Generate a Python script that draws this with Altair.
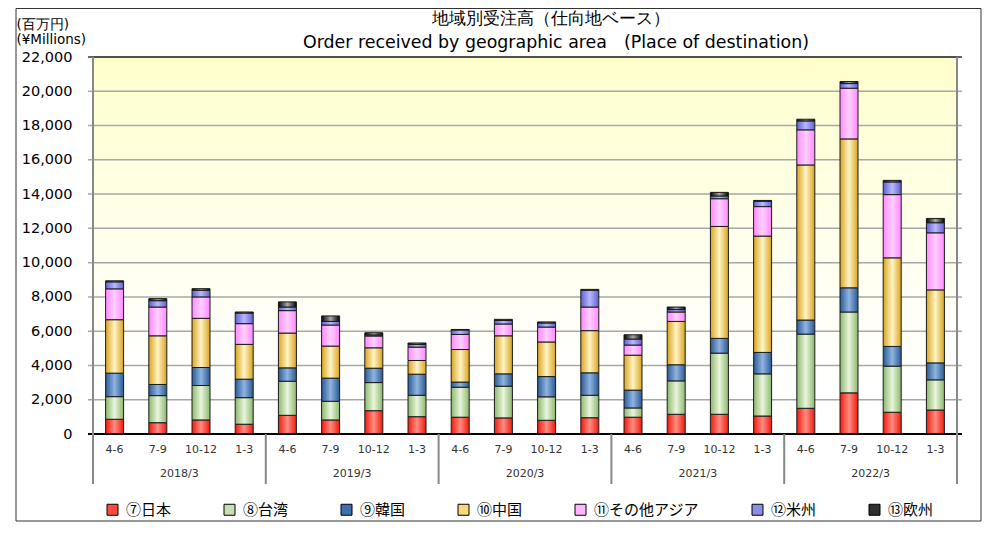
import altair as alt
import pandas as pd

quarters = ["4-6", "7-9", "10-12", "1-3"] * 5
years = ["2018/3", "2019/3", "2020/3", "2021/3", "2022/3"]
series_names = ["⑦日本", "⑧台湾", "⑨韓国", "⑩中国", "⑪その他アジア", "⑫米州", "⑬欧州"]
title_lines = ["地域別受注高（仕向地ベース）", "Order received by geographic area\u3000(Place of destination)"]

japan = [860, 660, 820, 570, 1090, 820, 1360, 1010, 980, 940, 800, 950, 980, 1150, 1150, 1050, 1500, 2400, 1270, 1400]
taiwan = [1320, 1580, 2010, 1550, 1990, 1090, 1640, 1250, 1750, 1850, 1370, 1310, 540, 1950, 3570, 2460, 4330, 4720, 2690, 1760]
korea = [1370, 650, 1050, 1080, 780, 1350, 840, 1230, 300, 720, 1180, 1310, 1040, 940, 860, 1250, 820, 1410, 1150, 990]
china = [3120, 2840, 2870, 2030, 2030, 1870, 1190, 800, 1900, 2220, 2020, 2460, 2040, 2530, 6530, 6790, 9050, 8690, 5170, 4260]
other_asia = [1800, 1680, 1250, 1210, 1310, 1230, 690, 780, 880, 690, 870, 1380, 590, 550, 1620, 1720, 2050, 2960, 3690, 3330]
americas = [410, 370, 390, 620, 210, 210, 60, 160, 260, 210, 240, 980, 350, 140, 160, 310, 520, 270, 740, 590]
europe = [60, 120, 90, 60, 300, 320, 130, 80, 30, 60, 60, 50, 250, 150, 210, 50, 100, 120, 90, 250]

all_series = [japan, taiwan, korea, china, other_asia, americas, europe]
edge_colors = ["#F01A0C", "#8DB86C", "#2A5A95", "#D9A420", "#FF88FF", "#6060D0", "#000000"]
light_colors = ["#FF8C82", "#EAF5DE", "#90B4E0", "#FFF4C4", "#FFD0FF", "#B8B8FF", "#A8A8A8"]
legend_colors = ["#FF4A3D", "#C8E0B2", "#3F6FAE", "#F6D77C", "#FFB6FF", "#8C8CEA", "#303030"]
ytick_values = list(range(0, 22001, 2000))

W, H = 874, 377

rows = []
for k, (name, vals) in enumerate(zip(series_names, all_series)):
    for i, v in enumerate(vals):
        rows.append({"pos": i + 0.5, "series": name, "order": k, "value": v})
df = pd.DataFrame(rows)

xs = alt.Scale(domain=[0, 20], nice=False, zero=False)
ys = alt.Scale(domain=[0, 22000], nice=False)

y_axis = alt.Axis(
    values=ytick_values, format=",d", labelFontSize=14.5, labelColor="#000000",
    ticks=False, domain=False, grid=False, labelPadding=16,
    labelOverlap=False, labelFlush=False, labelBound=False,
    title=["(百万円)", "(¥Millions)"], titleAngle=0, titleAlign="left",
    titleBaseline="top", titleX=-72, titleY=-40, titleFontSize=13.5,
    titleFontWeight="normal", titleLineHeight=15, titleColor="#000000")


def Y(field):
    return alt.Y(field, scale=ys, axis=y_axis)


def X(field):
    return alt.X(field, scale=xs, axis=None)


bg_df = pd.DataFrame({"x": [0], "x2": [20], "y": [0], "y2": [22000]})
bg = alt.Chart(bg_df).mark_rect(
    fill=alt.LinearGradient(
        gradient="linear",
        stops=[alt.GradientStop(color="#FFFFCC", offset=0),
               alt.GradientStop(color="#FFFFEE", offset=0.5),
               alt.GradientStop(color="#FFFFFF", offset=0.85)],
        x1=0, x2=0, y1=0, y2=1),
    stroke="#555555", strokeWidth=1,
).encode(x=X("x:Q"), x2="x2:Q", y=Y("y:Q"), y2="y2:Q")

grid_df = pd.DataFrame({"v": ytick_values[1:-1]})
grid = alt.Chart(grid_df).mark_rule(color="#A8A8A8", strokeWidth=1.5).encode(y=Y("v:Q"))

top_df = pd.DataFrame({"v": [22000]})
top_line = alt.Chart(top_df).mark_rule(color="#333333", strokeWidth=1.5).encode(y=Y("v:Q"))

layers = [bg, grid, top_line]
for k, name in enumerate(series_names):
    grad = alt.LinearGradient(
        gradient="linear",
        stops=[alt.GradientStop(color=edge_colors[k], offset=0),
               alt.GradientStop(color=light_colors[k], offset=0.5),
               alt.GradientStop(color=edge_colors[k], offset=1)],
        x1=0, x2=1, y1=0, y2=0)
    layer = alt.Chart(df).transform_stack(
        stack="value", groupby=["pos"], as_=["y0", "y1"],
        sort=[alt.SortField("order", order="ascending")],
    ).transform_filter(alt.datum.series == name).mark_bar(
        size=18, fill=grad, stroke="#1A1A1A", strokeWidth=1,
    ).encode(x=X("pos:Q"), y=Y("y0:Q"), y2="y1:Q")
    layers.append(layer)

base_df = pd.DataFrame({"v": [0]})
baseline = alt.Chart(base_df).mark_rule(color="#000000", strokeWidth=2).encode(y=Y("v:Q"))

edge_df = pd.DataFrame({"x": [0, 20]})
edges = alt.Chart(edge_df).mark_rule(color="#888888", strokeWidth=2).encode(
    x=X("x:Q"), y=alt.value(0), y2=alt.value(H + 50))

sep_df = pd.DataFrame({"x": [4, 8, 12, 16]})
seps = alt.Chart(sep_df).mark_rule(color="#888888", strokeWidth=2).encode(
    x=X("x:Q"), y=alt.value(H), y2=alt.value(H + 50))

q_df = pd.DataFrame({"pos": [i + 0.5 for i in range(20)], "label": quarters})
q_text = alt.Chart(q_df).mark_text(fontSize=11, color="#333333", baseline="middle").encode(
    x=X("pos:Q"), y=alt.value(H + 16), text="label:N")

y_df = pd.DataFrame({"pos": [2, 6, 10, 14, 18], "label": years})
y_text = alt.Chart(y_df).mark_text(fontSize=11, color="#333333", baseline="middle").encode(
    x=X("pos:Q"), y=alt.value(H + 40), text="label:N")

t_df = pd.DataFrame({"label": title_lines})
title1 = alt.Chart(t_df.iloc[[0]]).mark_text(fontSize=17, color="#000000", baseline="middle").encode(
    x=alt.value(W / 2 + 26), y=alt.value(-38), text="label:N")
title2 = alt.Chart(t_df.iloc[[1]]).mark_text(fontSize=17.4, color="#000000", baseline="middle").encode(
    x=alt.value(W / 2 + 31), y=alt.value(-14), text="label:N")

leg_df = pd.DataFrame({"series": series_names})
legend_layer = alt.Chart(leg_df).mark_point(shape="square", filled=True, opacity=1).encode(
    x=alt.value(-2000), y=alt.value(-2000),
    color=alt.Color("series:N", scale=alt.Scale(domain=series_names, range=legend_colors),
                    legend=alt.Legend(
                        orient="none", legendX=17, legendY=445, direction="horizontal",
                        columns=7, columnPadding=50, symbolType="square", symbolSize=121,
                        labelFontSize=15, labelFont="Noto Sans CJK JP", labelOffset=6,
                        labelColor="#000000",
                        symbolStrokeColor="#000000", symbolStrokeWidth=1, title=None,
                        padding=0)),
)

border = alt.Chart(base_df).mark_rect(fill=None, stroke="#333333", strokeWidth=1).encode(
    x=alt.value(-72), x2=alt.value(893), y=alt.value(-48.5), y2=alt.value(H + 87))

layers += [baseline, edges, seps, q_text, y_text, title1, title2, legend_layer, border]

chart = alt.layer(*layers).properties(
    width=W, height=H,
    autosize=alt.AutoSizeParams(type="none"),
    padding={"left": 80, "top": 49, "right": 21, "bottom": 88},
).configure(font="DejaVu Sans").configure_view(stroke=None)

chart.save("out.html", embed_options={"renderer": "svg", "actions": False})
